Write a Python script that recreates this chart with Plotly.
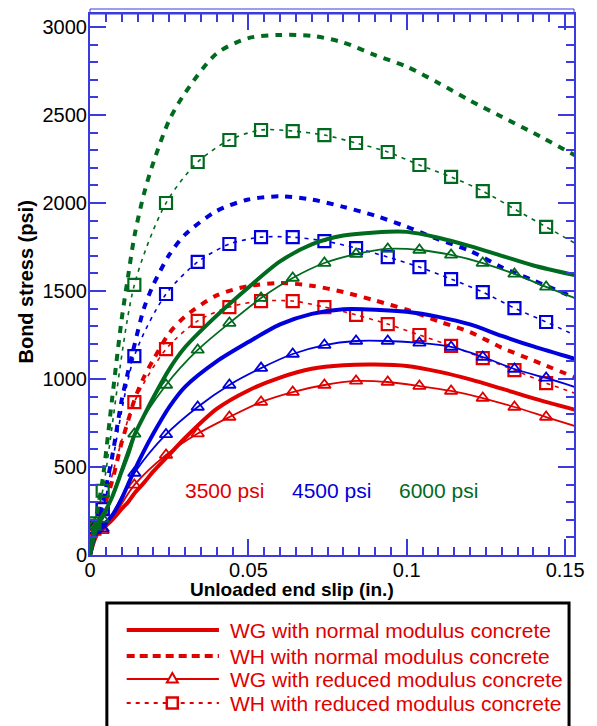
import plotly.graph_objects as go

# ---------------- data ----------------
# slip grid for the normal-modulus curves (in.)
x_norm = [0, 0.002, 0.004, 0.007, 0.01, 0.012, 0.014, 0.017, 0.02, 0.025, 0.03,
          0.04, 0.05, 0.06, 0.07, 0.08, 0.09, 0.1, 0.11, 0.12, 0.13, 0.14, 0.153]

wg_normal_3500 = [0, 110, 150, 200, 262, 300, 350, 410, 475, 570, 665,
                  830, 935, 1008, 1058, 1078, 1082, 1074, 1042, 998, 945, 890, 826]
wg_normal_4500 = [0, 130, 165, 225, 320, 400, 480, 590, 690, 840, 955,
                  1100, 1210, 1310, 1370, 1396, 1394, 1382, 1353, 1310, 1245, 1185, 1115]
wg_normal_6000 = [0, 150, 220, 330, 475, 570, 680, 790, 895, 1055, 1180,
                  1360, 1520, 1668, 1765, 1815, 1833, 1836, 1803, 1755, 1700, 1645, 1590]

wh_normal_3500 = [0, 150, 250, 420, 640, 760, 880, 1010, 1110, 1260, 1355,
                  1475, 1528, 1545, 1530, 1494, 1446, 1394, 1328, 1266, 1178, 1105, 1010]
wh_normal_4500 = [0, 170, 300, 560, 880, 1040, 1190, 1400, 1535, 1705, 1820,
                  1955, 2020, 2038, 2020, 1978, 1928, 1865, 1793, 1728, 1635, 1560, 1462]
wh_normal_6000 = [0, 220, 430, 890, 1340, 1580, 1810, 2050, 2230, 2470, 2625,
                  2850, 2937, 2955, 2950, 2912, 2840, 2775, 2682, 2582, 2490, 2398, 2272]

# slip values of the reduced-modulus curves (first and last are line ends, no marker)
x_red = [0, 0.0014, 0.004, 0.014, 0.024, 0.034, 0.044, 0.054, 0.064, 0.074,
         0.084, 0.094, 0.104, 0.114, 0.124, 0.134, 0.144, 0.153]

wg_reduced_3500 = [0, 155, 140, 398, 568, 690, 784, 869, 926, 966,
                   989, 983, 960, 932, 892, 841, 784, 733]
wg_reduced_4500 = [0, 165, 150, 466, 685, 841, 966, 1062, 1142, 1193,
                   1216, 1216, 1205, 1182, 1125, 1057, 1006, 955]
wg_reduced_6000 = [0, 175, 205, 688, 966, 1165, 1318, 1460, 1574, 1659,
                   1710, 1739, 1733, 1705, 1659, 1597, 1523, 1460]

wh_reduced_3500 = [0, 150, 265, 869, 1170, 1330, 1409, 1443, 1443, 1409,
                   1364, 1312, 1250, 1188, 1119, 1051, 977, 920]
wh_reduced_4500 = [0, 160, 260, 1130, 1483, 1665, 1767, 1806, 1806, 1784,
                   1744, 1693, 1636, 1568, 1494, 1403, 1324, 1250]
wh_reduced_6000 = [0, 180, 365, 1535, 2000, 2233, 2358, 2415, 2409, 2386,
                   2341, 2290, 2216, 2148, 2068, 1966, 1864, 1773]

strengths = ["3500 psi", "4500 psi", "6000 psi"]
x_ticks = [0, 0.05, 0.1, 0.15]
x_tick_text = ["0", "0.05", "0.1", "0.15"]
y_ticks = [0, 500, 1000, 1500, 2000, 2500, 3000]
legend_labels = ["WG with normal modulus concrete",
                 "WH with normal modulus concrete",
                 "WG with reduced modulus concrete",
                 "WH with reduced modulus concrete"]

# ---------------- styling ----------------
RED, BLUE, GREEN = "#e00000", "#0000dc", "#006a1e"
AXC = "#3a3ae0"
FONT = "Liberation Sans, Arial, sans-serif"
colors = [RED, BLUE, GREEN]

W, H = 597, 726
L, R, T, B = 90, 578, 14, 555          # plot area in pixels
XMAX = 0.1528
YMAX = 3074

def px(xp):
    return (xp - L) / (R - L)

def py(yp):
    return (B - yp) / (B - T)

fig = go.Figure()

groups = [
    (wg_normal_3500, wh_normal_3500, wg_reduced_3500, wh_reduced_3500),
    (wg_normal_4500, wh_normal_4500, wg_reduced_4500, wh_reduced_4500),
    (wg_normal_6000, wh_normal_6000, wg_reduced_6000, wh_reduced_6000),
]

for c, (wgn, whn, wgr, whr) in zip(colors, groups):
    # reduced modulus WG: thin solid + triangles
    fig.add_trace(go.Scatter(x=x_red, y=wgr, mode="lines", line=dict(color=c, width=1.8, shape="spline", smoothing=0.8),
                             showlegend=False, hoverinfo="skip"))
    fig.add_trace(go.Scatter(x=x_red[1:-1], y=wgr[1:-1], mode="markers",
                             marker=dict(symbol="triangle-up-open", size=11, color=c, line=dict(width=1.8, color=c)),
                             showlegend=False))
    # reduced modulus WH: thin dashed + squares
    fig.add_trace(go.Scatter(x=x_red, y=whr, mode="lines",
                             line=dict(color=c, width=1.6, dash="4px,5px", shape="spline", smoothing=0.8),
                             showlegend=False, hoverinfo="skip"))
    fig.add_trace(go.Scatter(x=x_red[1:-1], y=whr[1:-1], mode="markers",
                             marker=dict(symbol="square-open", size=12, color=c, line=dict(width=2.2, color=c)),
                             showlegend=False))
    # normal modulus WG: thick solid
    fig.add_trace(go.Scatter(x=x_norm, y=wgn, mode="lines", line=dict(color=c, width=4, shape="spline", smoothing=0.8),
                             showlegend=False))
    # normal modulus WH: thick dotted
    fig.add_trace(go.Scatter(x=x_norm, y=whn, mode="lines",
                             line=dict(color=c, width=4, dash="7px,7px", shape="spline", smoothing=0.8),
                             showlegend=False))

axis_common = dict(showline=True, linecolor=AXC, linewidth=2, mirror="ticks",
                   ticks="inside", ticklen=16, tickwidth=1.5, tickcolor=AXC,
                   showgrid=False, zeroline=False,
                   tickfont=dict(family=FONT, size=20, color="black"))

fig.update_xaxes(range=[0, XMAX], tickvals=x_ticks, ticktext=x_tick_text, ticklabelstandoff=-4,
                 minor=dict(dtick=0.005, ticks="inside", ticklen=8, tickwidth=1.5, tickcolor=AXC, showgrid=False),
                 **axis_common)
fig.update_yaxes(range=[0, YMAX], tickvals=y_ticks, ticklabelstandoff=-3,
                 minor=dict(dtick=100, ticks="inside", ticklen=8, tickwidth=1.5, tickcolor=AXC, showgrid=False),
                 **axis_common)

annotations = []
# axis titles
annotations.append(dict(text="<b>Unloaded end slip (in.)</b>", xref="paper", yref="paper",
                        x=px(294), y=py(589), xanchor="center", yanchor="middle", showarrow=False,
                        font=dict(family=FONT, size=19, color="black")))
annotations.append(dict(text="<b>Bond stress (psi)</b>", xref="paper", yref="paper",
                        x=px(25), y=py(282), xanchor="center", yanchor="middle", showarrow=False, textangle=-90,
                        font=dict(family=FONT, size=20, color="black")))
# strength labels
for s, c, xc in zip(strengths, colors, [226, 333, 441]):
    annotations.append(dict(text=s, xref="paper", yref="paper", x=px(xc), y=py(490),
                            xanchor="center", yanchor="middle",
                            showarrow=False, font=dict(family=FONT, size=21, color=c)))

# legend (drawn as a box with samples)
rows = [630, 656, 679, 703]
for lab, yr in zip(legend_labels, rows):
    annotations.append(dict(text=lab, xref="paper", yref="paper", x=px(229), y=py(yr),
                            xanchor="left", yanchor="middle", showarrow=False,
                            font=dict(family=FONT, size=21, color=RED)))

shapes = []
# outer top frame line
shapes.append(dict(type="rect", xref="paper", yref="paper", x0=0, x1=1, y0=1, y1=py(9),
                   line=dict(color=AXC, width=1)))
# legend box
shapes.append(dict(type="rect", xref="paper", yref="paper", x0=px(107), x1=px(573),
                   y0=py(603), y1=py(740), line=dict(color="black", width=3)))
sx0, sx1, smid = px(127), px(220), px(173)
shapes.append(dict(type="line", xref="paper", yref="paper", x0=sx0, x1=sx1, y0=py(rows[0]), y1=py(rows[0]),
                   line=dict(color=RED, width=4)))
shapes.append(dict(type="line", xref="paper", yref="paper", x0=sx0, x1=sx1, y0=py(rows[1]), y1=py(rows[1]),
                   line=dict(color=RED, width=4, dash="8px,5px")))
shapes.append(dict(type="line", xref="paper", yref="paper", x0=sx0, x1=sx1, y0=py(rows[2]), y1=py(rows[2]),
                   line=dict(color=RED, width=2)))
shapes.append(dict(type="path", xref="paper", yref="paper", xsizemode="pixel", ysizemode="pixel",
                   xanchor=smid, yanchor=py(rows[2]), path="M-5.5,-3.5 L5.5,-3.5 L0,6 Z",
                   fillcolor="white", line=dict(color=RED, width=2)))
shapes.append(dict(type="line", xref="paper", yref="paper", x0=sx0, x1=sx1, y0=py(rows[3]), y1=py(rows[3]),
                   line=dict(color=RED, width=2, dash="4px,5px")))
shapes.append(dict(type="rect", xref="paper", yref="paper", xsizemode="pixel", ysizemode="pixel",
                   xanchor=smid, yanchor=py(rows[3]), x0=-5.5, x1=5.5, y0=-5.5, y1=5.5,
                   fillcolor="white", line=dict(color=RED, width=2.5)))

fig.update_layout(width=W, height=H, margin=dict(l=L, r=W - R, t=T, b=H - B),
                  paper_bgcolor="white", plot_bgcolor="white", showlegend=False,
                  annotations=annotations, shapes=shapes,
                  font=dict(family=FONT))

fig.write_html("out.html", config={"displayModeBar": False},
               post_script="document.body.style.margin='0';document.body.style.padding='0';"
                           "document.body.style.overflow='hidden';"
                           "document.documentElement.style.overflow='hidden';")
